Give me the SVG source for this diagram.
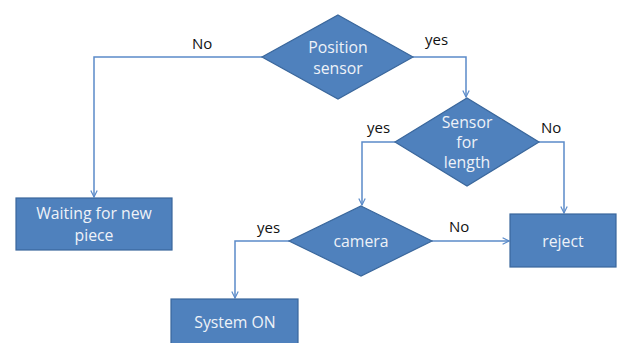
<svg xmlns="http://www.w3.org/2000/svg" width="617" height="343" viewBox="0 0 617 343">
<defs>
<style>
.shape{fill:#4F81BD;stroke:#3A679C;stroke-width:1.2}
.t{font-family:"Open Sans","Liberation Sans",sans-serif;font-size:15.8px;fill:#EEF2F8;text-anchor:middle}
.lbl{font-family:"Open Sans","Liberation Sans",sans-serif;font-size:15px;fill:#111111}
.c{fill:none;stroke:#5B8BC9;stroke-width:1.5}
</style>
<marker id="ah" viewBox="0 0 10 10" refX="9" refY="5" markerWidth="8" markerHeight="8" orient="auto" markerUnits="userSpaceOnUse">
<path d="M1,1 L9,5 L1,9" fill="none" stroke="#5B8BC9" stroke-width="1.5"/>
</marker>
</defs>
<rect width="617" height="343" fill="#FFFFFF"/>
<g id="connectors">
<polyline class="c" points="262,57 94,57 94,197" marker-end="url(#ah)"/>
<polyline class="c" points="413,57 466,57 466,97" marker-end="url(#ah)"/>
<polyline class="c" points="395,142 362,142 362,205" marker-end="url(#ah)"/>
<polyline class="c" points="539,142 564,142 564,213" marker-end="url(#ah)"/>
<polyline class="c" points="432,241 509,241" marker-end="url(#ah)"/>
<polyline class="c" points="289,241 235,241 235,298" marker-end="url(#ah)"/>
</g>
<g id="labels">
<text class="lbl" x="192" y="49">No</text>
<text class="lbl" x="425" y="45">yes</text>
<text class="lbl" x="367" y="133">yes</text>
<text class="lbl" x="541" y="133">No</text>
<text class="lbl" x="257" y="233">yes</text>
<text class="lbl" x="449" y="232">No</text>
</g>
<g id="position-sensor">
<polygon class="shape" points="338,15 413,57 338,99 262,57"/>
<text class="t" x="338" y="53">Position</text>
<text class="t" x="338" y="74">sensor</text>
</g>
<g id="sensor-length">
<polygon class="shape" points="467,98 539,142 467,186 395,142"/>
<text class="t" x="467" y="128">Sensor</text>
<text class="t" x="467" y="148">for</text>
<text class="t" x="467" y="168">length</text>
</g>
<g id="camera">
<polygon class="shape" points="361,206 432,241 361,276 289,241"/>
<text class="t" x="361" y="247">camera</text>
</g>
<g id="waiting">
<rect class="shape" x="16" y="198" width="156" height="52"/>
<text class="t" x="94" y="219">Waiting for new</text>
<text class="t" x="94" y="241">piece</text>
</g>
<g id="reject">
<rect class="shape" x="510" y="214" width="106" height="53"/>
<text class="t" x="563" y="247">reject</text>
</g>
<g id="system-on">
<rect class="shape" x="171" y="299" width="127" height="50"/>
<text class="t" x="235" y="328">System ON</text>
</g>
</svg>
